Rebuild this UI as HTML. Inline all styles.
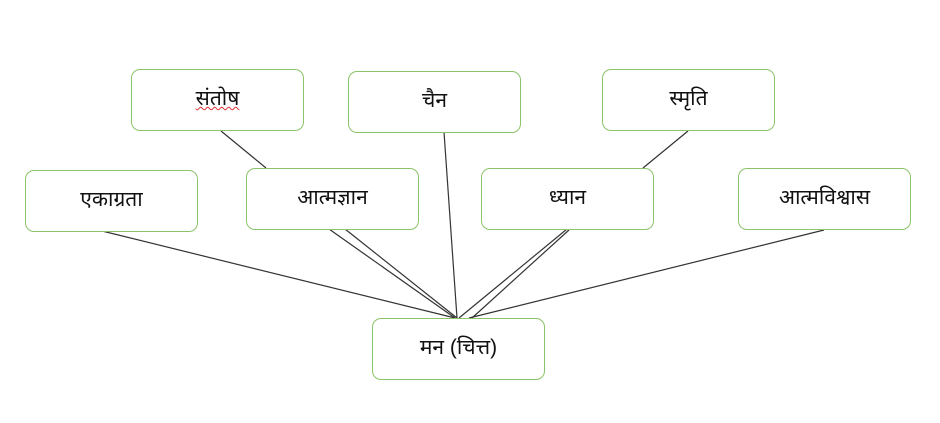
<!DOCTYPE html>
<html><head><meta charset="utf-8"><style>
html,body{margin:0;padding:0;background:#fff;}
body{width:940px;height:423px;position:relative;overflow:hidden;}
svg{position:absolute;left:0;top:0;}
.b{position:absolute;box-sizing:border-box;border:1.3px solid #8cc46a;border-radius:9px;background:#fff;
display:flex;align-items:center;justify-content:center;font-family:"Liberation Sans","Noto Sans Devanagari","Lohit Devanagari",sans-serif;font-size:21px;color:#111;width:173px;height:62px;}
</style></head><body>
<svg width="940" height="423">
<g stroke="#333" stroke-width="1.2" fill="none">
<line x1="221" y1="131" x2="266" y2="168"/>
<line x1="688" y1="131" x2="643" y2="168"/>
<line x1="102" y1="231" x2="455" y2="318"/>
<line x1="329" y1="229" x2="455" y2="318"/>
<line x1="345" y1="229" x2="457" y2="318"/>
<line x1="444" y1="132" x2="457" y2="318"/>
<line x1="567" y1="229" x2="459" y2="318"/>
<line x1="569" y1="230" x2="472" y2="318"/>
<line x1="824" y1="230" x2="469" y2="318"/>
</g></svg>
<div class="b" style="left:131px;top:69px;"><span style="text-decoration:underline wavy #e03030;text-decoration-thickness:1px">संतोष</span></div>
<div class="b" style="left:348px;top:71px;">चैन</div>
<div class="b" style="left:602px;top:69px;">स्मृति</div>
<div class="b" style="left:25px;top:170px;">एकाग्रता</div>
<div class="b" style="left:246px;top:168px;">आत्मज्ञान</div>
<div class="b" style="left:481px;top:168px;">ध्यान</div>
<div class="b" style="left:738px;top:168px;">आत्मविश्वास</div>
<div class="b" style="left:372px;top:318px;">मन (चित्त)</div>
</body></html>
